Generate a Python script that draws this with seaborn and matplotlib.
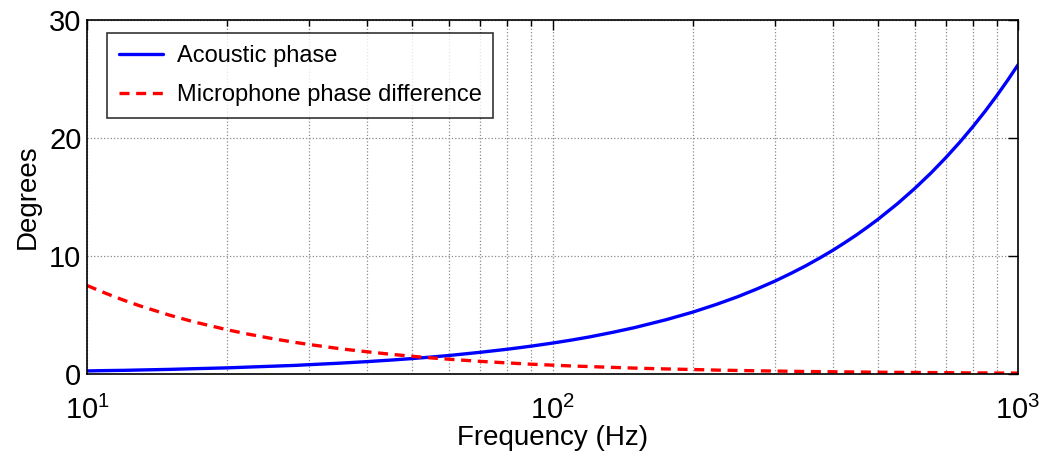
import matplotlib
matplotlib.use("Agg")
import matplotlib.pyplot as plt
import matplotlib.ticker as mticker
import seaborn as sns
import pandas as pd

# Frequency points (Hz) and the two phase curves (degrees)
freq_hz = [10, 11, 12, 13, 15, 17, 20, 22, 25, 28, 30, 35, 40, 45, 50, 55,
           60, 70, 80, 90, 100, 110, 120, 135, 150, 175, 200, 225, 250, 275,
           300, 325, 350, 375, 400, 425, 450, 475, 500, 550, 600, 650, 700,
           750, 800, 850, 900, 950, 1000]
acoustic_phase = [0.26, 0.29, 0.31, 0.34, 0.39, 0.45, 0.52, 0.58, 0.66,
                  0.73, 0.79, 0.92, 1.05, 1.18, 1.31, 1.44, 1.57, 1.84,
                  2.10, 2.36, 2.62, 2.88, 3.14, 3.54, 3.93, 4.59, 5.24,
                  5.90, 6.55, 7.21, 7.86, 8.52, 9.17, 9.83, 10.48, 11.14,
                  11.79, 12.45, 13.10, 14.41, 15.72, 17.03, 18.34, 19.65,
                  20.96, 22.27, 23.58, 24.89, 26.20]
mic_phase_diff = [7.50, 6.82, 6.25, 5.77, 5.00, 4.41, 3.75, 3.41, 3.00,
                  2.68, 2.50, 2.14, 1.88, 1.67, 1.50, 1.36, 1.25, 1.07,
                  0.94, 0.83, 0.75, 0.68, 0.63, 0.56, 0.50, 0.43, 0.38,
                  0.33, 0.30, 0.27, 0.25, 0.23, 0.21, 0.20, 0.19, 0.18,
                  0.17, 0.16, 0.15, 0.14, 0.13, 0.12, 0.11, 0.10, 0.09,
                  0.09, 0.08, 0.08, 0.075]

series_labels = ["Acoustic phase", "Microphone phase difference"]
y_ticks = [0, 10, 20, 30]

df = pd.DataFrame({
    "freq": freq_hz,
    "acoustic": acoustic_phase,
    "mic": mic_phase_diff,
})

sns.set_theme(style="white")
plt.rcParams["font.family"] = ["Liberation Sans", "DejaVu Sans"]
plt.rcParams["mathtext.fontset"] = "custom"
plt.rcParams["mathtext.rm"] = "Liberation Sans"
plt.rcParams["mathtext.it"] = "Liberation Sans"
plt.rcParams["text.color"] = "black"
plt.rcParams["axes.labelcolor"] = "black"
plt.rcParams["xtick.color"] = "black"
plt.rcParams["ytick.color"] = "black"

fig = plt.figure(figsize=(10.44, 4.54), dpi=100)
ax = fig.add_axes([87 / 1044, 1 - 374 / 454, 931 / 1044, 354 / 454])
ax.set_xscale("log")

sns.lineplot(data=df, x="freq", y="acoustic", ax=ax, color=(0, 0, 1),
             linewidth=2.4, label=series_labels[0])
sns.lineplot(data=df, x="freq", y="mic", ax=ax, color=(1, 0, 0),
             linewidth=2.4, linestyle=(0, (3, 2)), label=series_labels[1])

ax.set_xlim(10, 1000)
ax.set_ylim(0, 30)
ax.set_yticks(y_ticks)
ax.xaxis.set_major_locator(mticker.LogLocator(base=10))
ax.xaxis.set_minor_locator(mticker.LogLocator(base=10, subs=range(2, 10)))
ax.xaxis.set_minor_formatter(mticker.NullFormatter())
ax.xaxis.set_major_formatter(mticker.LogFormatterMathtext())

ax.grid(True, which="major", axis="both", linestyle=":", color="#8a8a8a",
        linewidth=0.9)
ax.grid(True, which="minor", axis="x", linestyle=":", color="#8a8a8a",
        linewidth=0.9)

ax.tick_params(which="both", direction="in", top=True, right=True,
               color="black", width=1.0, labelcolor="black")
ax.tick_params(which="major", length=7, labelsize=21)
ax.tick_params(which="minor", length=4)
ax.tick_params(axis="y", which="major", pad=4)
ax.tick_params(axis="x", which="major", pad=16)

for spine in ax.spines.values():
    spine.set_color("black")
    spine.set_linewidth(1.2)

ax.set_xlabel("Frequency (Hz)", fontsize=20, labelpad=0, color="black")
ax.set_ylabel("Degrees", fontsize=20, labelpad=6, color="black")

leg = ax.legend(loc="upper left", bbox_to_anchor=(0.0215, 0.963),
                borderaxespad=0, fontsize=17, frameon=True, fancybox=False,
                handlelength=1.85, handletextpad=0.6, labelspacing=0.72,
                borderpad=0.5)
leg.get_frame().set_edgecolor("black")
leg.get_frame().set_linewidth(1.2)
for txt in leg.get_texts():
    txt.set_color("black")

fig.savefig("out.png", dpi=100)
